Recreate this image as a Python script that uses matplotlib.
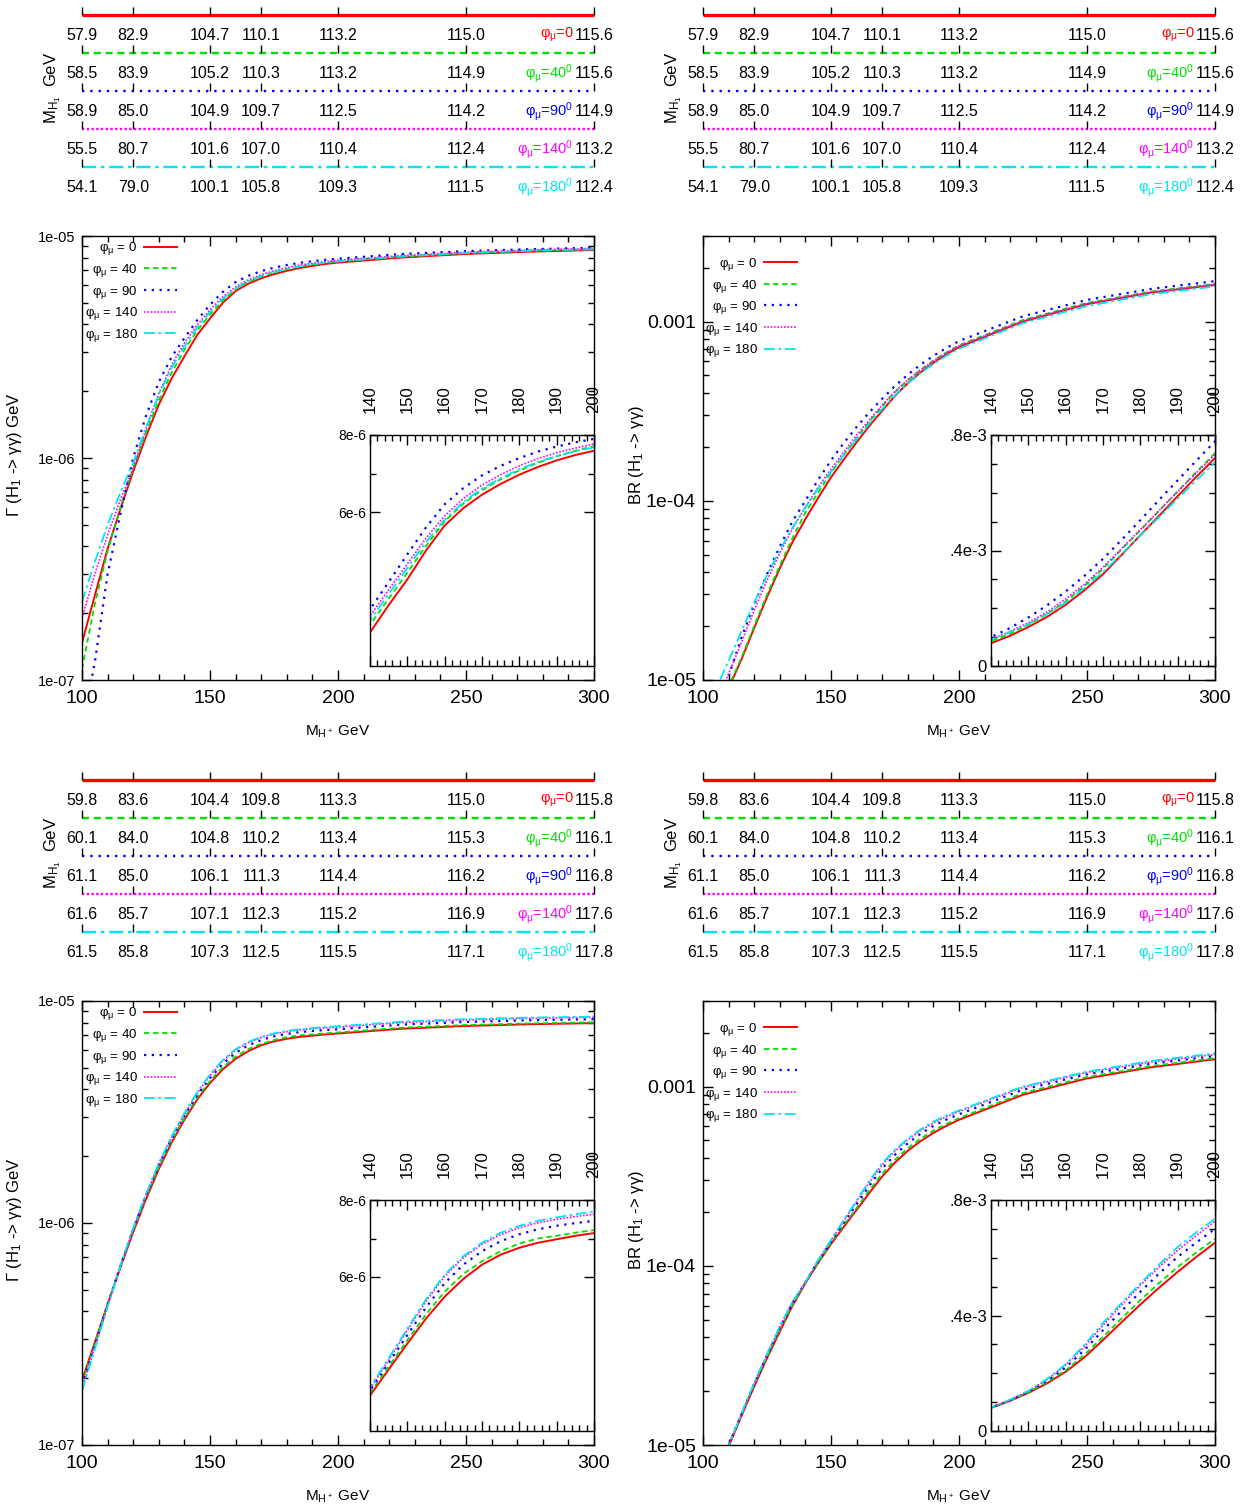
import numpy as np
import matplotlib
matplotlib.use("Agg")
import matplotlib.pyplot as plt
from matplotlib import font_manager
from matplotlib.ticker import MultipleLocator, LogLocator, NullFormatter

# ---- data ------------------------------------------------------------------
PHASES = [0, 40, 90, 140, 180]

# header rows: M_H1 (GeV) at these M_H+ values
HDR_X = [100, 120, 150, 170, 200, 250, 300]
HDR_TOP = [
    [57.9, 82.9, 104.7, 110.1, 113.2, 115.0, 115.6],
    [58.5, 83.9, 105.2, 110.3, 113.2, 114.9, 115.6],
    [58.9, 85.0, 104.9, 109.7, 112.5, 114.2, 114.9],
    [55.5, 80.7, 101.6, 107.0, 110.4, 112.4, 113.2],
    [54.1, 79.0, 100.1, 105.8, 109.3, 111.5, 112.4],
]
HDR_BOT = [
    [59.8, 83.6, 104.4, 109.8, 113.3, 115.0, 115.8],
    [60.1, 84.0, 104.8, 110.2, 113.4, 115.3, 116.1],
    [61.1, 85.0, 106.1, 111.3, 114.4, 116.2, 116.8],
    [61.6, 85.7, 107.1, 112.3, 115.2, 116.9, 117.6],
    [61.5, 85.8, 107.3, 112.5, 115.5, 117.1, 117.8],
]

MHP = [100, 105, 110, 115, 120, 125, 130, 135, 140, 145, 150, 155, 160,
       165, 170, 175, 180, 185, 190, 195, 200, 225, 250, 275, 300]

# Gamma(H1 -> gamma gamma), units of 1e-6 GeV, upper row
GAM_TOP_0 = [0.147, 0.24, 0.39, 0.59, 0.87, 1.25, 1.74, 2.28, 2.87, 3.58, 4.25, 5.00, 5.65,
             6.10, 6.45, 6.73, 6.97, 7.17, 7.34, 7.48, 7.59, 8.00, 8.30, 8.50, 8.65]
GAM_TOP_40 = [0.112, 0.22, 0.38, 0.60, 0.90, 1.30, 1.82, 2.42, 3.07, 3.75, 4.42, 5.12, 5.76,
              6.22, 6.57, 6.85, 7.08, 7.28, 7.45, 7.59, 7.71, 8.10, 8.38, 8.58, 8.72]
GAM_TOP_90 = [0.06, 0.12, 0.30, 0.56, 1.00, 1.55, 2.20, 2.85, 3.47, 4.18, 4.90, 5.60, 6.20,
              6.62, 6.95, 7.20, 7.40, 7.57, 7.70, 7.81, 7.90, 8.30, 8.55, 8.72, 8.85]
GAM_TOP_140 = [0.19, 0.30, 0.45, 0.65, 0.90, 1.35, 1.95, 2.62, 3.30, 3.98, 4.65, 5.32, 5.90,
               6.35, 6.70, 6.97, 7.20, 7.39, 7.54, 7.66, 7.77, 8.16, 8.45, 8.65, 8.80]
GAM_TOP_180 = [0.225, 0.34, 0.50, 0.70, 0.95, 1.37, 1.93, 2.55, 3.19, 3.87, 4.55, 5.22, 5.80,
               6.26, 6.61, 6.88, 7.11, 7.30, 7.45, 7.58, 7.68, 8.08, 8.38, 8.58, 8.72]

# BR(H1 -> gamma gamma), units of 1e-3, upper row
BR_TOP_0 = [0.0041, 0.0062, 0.0090, 0.0130, 0.0195, 0.029, 0.042, 0.059, 0.079, 0.104, 0.135, 0.170,
            0.212, 0.262, 0.318, 0.385, 0.453, 0.520, 0.588, 0.655, 0.720, 1.00, 1.25, 1.45, 1.60]
BR_TOP_40 = [0.0042, 0.0063, 0.0092, 0.0133, 0.0200, 0.030, 0.0435, 0.062, 0.086, 0.111, 0.143, 0.180,
             0.224, 0.277, 0.337, 0.404, 0.470, 0.537, 0.605, 0.672, 0.737, 1.02, 1.27, 1.47, 1.62]
BR_TOP_90 = [0.0030, 0.0058, 0.0105, 0.0172, 0.0265, 0.039, 0.0555, 0.077, 0.100, 0.131, 0.168, 0.210,
             0.258, 0.312, 0.371, 0.437, 0.505, 0.575, 0.643, 0.711, 0.778, 1.07, 1.32, 1.52, 1.68]
BR_TOP_140 = [0.0048, 0.0072, 0.0108, 0.0162, 0.0245, 0.036, 0.051, 0.070, 0.092, 0.119, 0.150, 0.187,
              0.232, 0.283, 0.342, 0.407, 0.472, 0.538, 0.604, 0.669, 0.732, 1.01, 1.26, 1.46, 1.61]
BR_TOP_180 = [0.0062, 0.0089, 0.0128, 0.0187, 0.0270, 0.0385, 0.053, 0.071, 0.092, 0.117, 0.145, 0.180,
              0.220, 0.270, 0.325, 0.388, 0.452, 0.515, 0.580, 0.643, 0.705, 0.98, 1.22, 1.42, 1.57]

# Gamma, lower row (1e-6 GeV)
GAM_BOT_0 = [0.195, 0.29, 0.43, 0.63, 0.91, 1.28, 1.75, 2.30, 2.92, 3.60, 4.27, 4.92, 5.49,
             5.95, 6.32, 6.58, 6.76, 6.89, 6.98, 7.07, 7.14, 7.50, 7.72, 7.86, 7.95]
GAM_BOT_40 = [0.19, 0.285, 0.43, 0.64, 0.93, 1.31, 1.79, 2.35, 2.98, 3.67, 4.36, 5.03, 5.62,
              6.08, 6.41, 6.67, 6.87, 7.00, 7.07, 7.15, 7.22, 7.58, 7.80, 7.93, 8.02]
GAM_BOT_90 = [0.185, 0.28, 0.43, 0.64, 0.94, 1.33, 1.82, 2.40, 3.05, 3.77, 4.49, 5.21, 5.84,
              6.32, 6.67, 6.93, 7.11, 7.24, 7.33, 7.40, 7.46, 7.83, 8.05, 8.19, 8.28]
GAM_BOT_140 = [0.18, 0.275, 0.42, 0.64, 0.94, 1.34, 1.84, 2.43, 3.09, 3.84, 4.62, 5.37, 6.02,
               6.50, 6.85, 7.10, 7.28, 7.41, 7.50, 7.57, 7.63, 8.00, 8.22, 8.36, 8.45]
GAM_BOT_180 = [0.175, 0.27, 0.42, 0.64, 0.95, 1.35, 1.86, 2.46, 3.13, 3.89, 4.66, 5.42, 6.06,
               6.54, 6.89, 7.15, 7.33, 7.46, 7.55, 7.63, 7.70, 8.07, 8.29, 8.42, 8.50]

# BR, lower row (1e-3)
BR_BOT_0 = [0.0045, 0.0066, 0.0098, 0.0145, 0.0212, 0.0305, 0.043, 0.060, 0.080, 0.104, 0.132, 0.165,
            0.205, 0.255, 0.315, 0.377, 0.438, 0.496, 0.551, 0.603, 0.652, 0.90, 1.11, 1.28, 1.42]
BR_BOT_40 = [0.0046, 0.0067, 0.0100, 0.0148, 0.0217, 0.0312, 0.044, 0.061, 0.081, 0.105, 0.134, 0.169,
             0.210, 0.264, 0.326, 0.390, 0.453, 0.512, 0.568, 0.618, 0.666, 0.92, 1.13, 1.30, 1.44]
BR_BOT_90 = [0.0044, 0.0066, 0.0099, 0.0148, 0.0219, 0.0316, 0.045, 0.062, 0.081, 0.106, 0.136, 0.174,
             0.220, 0.280, 0.349, 0.416, 0.482, 0.545, 0.603, 0.653, 0.700, 0.96, 1.17, 1.34, 1.48]
BR_BOT_140 = [0.0044, 0.0066, 0.0100, 0.0149, 0.0221, 0.0319, 0.0455, 0.063, 0.081, 0.107, 0.138, 0.178,
              0.228, 0.292, 0.366, 0.437, 0.505, 0.568, 0.626, 0.677, 0.726, 0.99, 1.20, 1.37, 1.51]
BR_BOT_180 = [0.0043, 0.0065, 0.0099, 0.0149, 0.0222, 0.0321, 0.046, 0.063, 0.081, 0.108, 0.139, 0.180,
              0.231, 0.298, 0.374, 0.444, 0.511, 0.576, 0.637, 0.688, 0.735, 1.00, 1.21, 1.39, 1.53]

# ---- fonts ---------------------------------------------------------------
_names = {f.name for f in font_manager.fontManager.ttflist}
SANS = "Liberation Sans" if "Liberation Sans" in _names else "DejaVu Sans"

plt.rcParams["font.family"] = [SANS, "DejaVu Sans"]
plt.rcParams["mathtext.fontset"] = "custom"
plt.rcParams["mathtext.rm"] = SANS
plt.rcParams["mathtext.it"] = SANS
plt.rcParams["mathtext.bf"] = SANS
plt.rcParams["axes.linewidth"] = 1.0

STYLES = [
    dict(color="#ff0000", ls="-", lw=1.4),
    dict(color="#00e000", ls=(0, (3, 2)), lw=1.3),
    dict(color="#0000ff", ls=(0, (1, 2.5)), lw=1.6),
    dict(color="#ff00ff", ls=(0, (1, 1)), lw=1.2),
    dict(color="#00e5ee", ls=(0, (6, 2, 1.5, 2)), lw=1.3),
]

W, H = 1244, 1509
fig = plt.figure(figsize=(W / 100, H / 100), dpi=100)


def box(x0, y0, x1, y1):
    """pixel box (top-left origin) -> figure fraction rect"""
    return [x0 / W, 1 - y1 / H, (x1 - x0) / W, (y1 - y0) / H]


def draw_header(ax, rows):
    ax.set_xlim(100, 300)
    ax.set_ylim(5.0, -0.395)
    ax.axis("off")
    for i, (vals, st, ph) in enumerate(zip(rows, STYLES, PHASES)):
        lw = 2.4 if i == 0 else 1.7
        ax.plot([100, 300], [i, i], color=st["color"], ls=st["ls"], lw=lw,
                clip_on=False, solid_capstyle="butt")
        ax.vlines(HDR_X, i - 0.22, i, color="black", lw=1.0, clip_on=False)
        for xv, v in zip(HDR_X, vals):
            ax.text(xv, i + 0.53, f"{v:.1f}", ha="center", va="center", fontsize=11.5)
        sup = "" if ph == 0 else "$^0$"
        ax.text(292.0, i + 0.53, rf"$\varphi_\mu$={ph}" + sup, color=st["color"],
                ha="right", va="center", fontsize=10.5)


def draw_main(ax, series, scale, ylim, yticks, ylabels, ysize, leg_anchor):
    ax.set_yscale("log")
    for vals, st, ph in zip(series, STYLES, PHASES):
        ax.plot(MHP, np.array(vals) * scale, label=rf"$\varphi_\mu$ = {ph}", **st)
    ax.set_xlim(100, 300)
    ax.set_ylim(*ylim)
    ax.set_xticks([100, 150, 200, 250, 300])
    ax.xaxis.set_minor_locator(MultipleLocator(10))
    ax.set_yticks(yticks, ylabels)
    ax.yaxis.set_minor_locator(LogLocator(base=10, subs=range(2, 10)))
    ax.yaxis.set_minor_formatter(NullFormatter())
    ax.tick_params(which="both", direction="in", top=True, right=True, width=1)
    ax.tick_params(which="major", length=7)
    ax.tick_params(which="minor", length=4)
    ax.tick_params(axis="x", labelsize=14, pad=7)
    ax.tick_params(axis="y", labelsize=ysize, pad=5)
    ax.legend(loc="upper right", bbox_to_anchor=leg_anchor, markerfirst=False,
              frameon=False, fontsize=9.5, handlelength=2.5, handletextpad=0.5,
              labelspacing=0.35, borderpad=0, borderaxespad=0)


def draw_inset(ax, series, scale, ylim, major, labels, minor, ysize):
    for vals, st in zip(series, STYLES):
        ax.plot(MHP, np.array(vals) * scale, **st)
    ax.set_xlim(140, 200)
    ax.set_ylim(*ylim)
    ax.set_xticks(range(140, 201, 10))
    ax.xaxis.set_minor_locator(MultipleLocator(2))
    ax.set_yticks(major, labels)
    ax.set_yticks(minor, minor=True)
    ax.tick_params(which="both", direction="in", top=True, right=True, width=1,
                   labeltop=True, labelbottom=False)
    ax.tick_params(which="major", length=7)
    ax.tick_params(which="minor", length=4)
    ax.tick_params(axis="x", labelrotation=90, pad=16, labelsize=12)
    ax.tick_params(axis="y", labelsize=ysize, pad=3)


panels = [
    (0, 0, HDR_TOP, [GAM_TOP_0, GAM_TOP_40, GAM_TOP_90, GAM_TOP_140, GAM_TOP_180], "gam"),
    (621, 0, HDR_TOP, [BR_TOP_0, BR_TOP_40, BR_TOP_90, BR_TOP_140, BR_TOP_180], "br"),
    (0, 765, HDR_BOT, [GAM_BOT_0, GAM_BOT_40, GAM_BOT_90, GAM_BOT_140, GAM_BOT_180], "gam"),
    (621, 765, HDR_BOT, [BR_BOT_0, BR_BOT_40, BR_BOT_90, BR_BOT_140, BR_BOT_180], "br"),
]

for dx, dy, hdr, series, kind in panels:
    hax = fig.add_axes(box(82 + dx, 0 + dy, 594 + dx, 205 + dy))
    draw_header(hax, hdr)
    fig.text((53 + dx) / W, 1 - (88 + dy) / H, r"M$_{\mathregular{H_1}}$  GeV",
             rotation=90, ha="center", va="center", fontsize=12)

    ax = fig.add_axes(box(82 + dx, 236 + dy, 594 + dx, 680 + dy))
    inset = fig.add_axes(box(370 + dx, 435 + dy, 594 + dx, 666 + dy))
    if kind == "gam":
        draw_main(ax, series, 1e-6, (1e-7, 1e-5), [1e-7, 1e-6, 1e-5],
                  ["1e-07", "1e-06", "1e-05"], 10.5, (0.186, 0.99))
        draw_inset(inset, series, 1e-6, (2e-6, 8e-6), [6e-6, 8e-6],
                   ["6e-6", "8e-6"], [7e-6], 10)
        ylab = r"$\Gamma$ (H$_1$ -> $\gamma\gamma$) GeV"
    else:
        draw_main(ax, series, 1e-3, (1e-5, 3.0e-3), [1e-5, 1e-4, 1e-3],
                  ["1e-05", "1e-04", "0.001"], 14, (0.184, 0.955))
        draw_inset(inset, series, 1e-3, (0, 0.8e-3), [0, 0.4e-3, 0.8e-3],
                   ["0", ".4e-3", ".8e-3"],
                   [0.1e-3, 0.2e-3, 0.3e-3, 0.5e-3, 0.6e-3, 0.7e-3], 12)
        ylab = r"BR (H$_1$ -> $\gamma\gamma$)"
    fig.text((15 + dx) / W, 1 - (455 + dy) / H, ylab, rotation=90,
             ha="center", va="center", fontsize=12)
    fig.text((338 + dx) / W, 1 - (732 + dy) / H, r"M$_{H^+}$ GeV",
             ha="center", va="center", fontsize=11)

fig.savefig("out.png", dpi=100)
